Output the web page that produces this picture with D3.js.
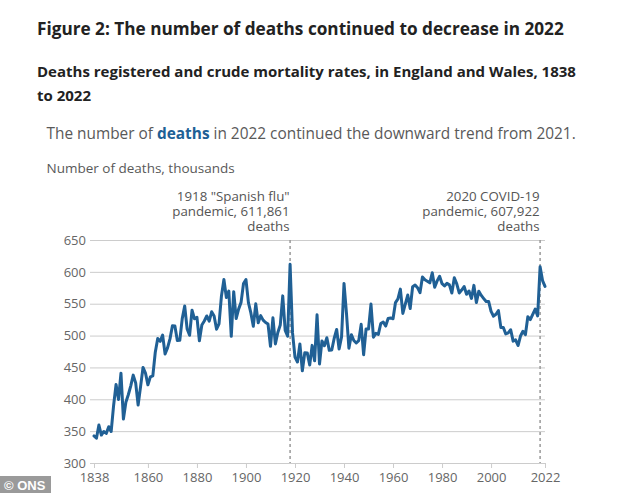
<!DOCTYPE html>
<html>
<head>
<meta charset="utf-8">
<script src="https://cdn.jsdelivr.net/npm/d3@7"></script>
<style>
  html, body { margin: 0; padding: 0; background: #ffffff; }
  svg { display: block; }
</style>
</head>
<body>
<svg id="chart" width="634" height="493"></svg>
<script>
// ---- Data (thousands of deaths registered, England and Wales) ----
const firstYear = 1838;
const deaths = [
  342.5, 338.9, 359.6, 343.8, 349.5, 346.4, 356.9, 349.4, 390.3, 423.3, // 1838-1847
  399.8, 441.0, 368.9, 395.4, 407.1, 421.1, 437.9, 425.7, 391.0, 419.8, // 1848-1857
  450.0, 441.2, 422.7, 435.1, 436.6, 473.8, 495.5, 490.9, 500.7, 471.1, // 1858-1867
  480.6, 494.8, 515.3, 514.9, 492.3, 492.5, 526.6, 546.5, 510.3, 500.5, // 1868-1877
  539.9, 526.3, 528.6, 491.9, 516.6, 522.9, 530.8, 522.7, 537.3, 530.8, // 1878-1887
  510.0, 518.4, 562.2, 587.9, 559.7, 569.9, 498.8, 568.9, 526.7, 541.5, // 1888-1897
  552.1, 581.8, 587.8, 551.6, 535.5, 514.6, 549.8, 520.0, 531.3, 524.2, // 1898-1907
  520.5, 518.0, 483.2, 527.8, 486.9, 504.9, 516.7, 562.3, 508.0, 498.9, // 1908-1917
  611.9, 504.2, 466.1, 458.6, 486.8, 444.8, 473.2, 472.8, 453.7, 484.6, // 1918-1927
  460.4, 532.5, 455.4, 491.6, 484.1, 496.5, 476.8, 477.4, 495.8, 509.6, // 1928-1937
  478.9, 498.0, 581.9, 535.2, 480.1, 501.4, 492.2, 488.4, 492.1, 517.6, // 1938-1947
  469.9, 510.3, 510.3, 549.4, 497.5, 503.5, 501.9, 518.9, 521.3, 514.9, // 1948-1957
  526.8, 527.7, 526.3, 551.8, 557.6, 572.9, 534.7, 549.4, 563.6, 542.5, // 1958-1967
  576.8, 579.4, 575.2, 567.3, 591.9, 587.5, 585.3, 582.8, 598.5, 575.9, // 1968-1977
  585.9, 593.0, 581.4, 577.9, 581.9, 579.6, 566.9, 590.7, 581.2, 566.9, // 1978-1987
  571.4, 576.9, 564.8, 570.0, 558.3, 578.8, 551.8, 569.7, 563.0, 558.1, // 1988-1997
  553.4, 553.5, 537.9, 530.4, 533.5, 539.2, 512.5, 512.7, 502.6, 504.1, // 1998-2007
  509.1, 491.3, 493.2, 484.4, 499.3, 506.8, 501.4, 529.7, 525.0, 533.3, // 2008-2017
  541.6, 530.8, 607.9, 586.3, 577.2                                      // 2018-2022
];
const years = d3.range(firstYear, firstYear + deaths.length);
const series = years.map((y, i) => ({ year: y, value: deaths[i] }));

const yTicks = [300, 350, 400, 450, 500, 550, 600, 650];
const xTicks = [1838, 1860, 1880, 1900, 1920, 1940, 1960, 1980, 2000, 2022];

const annotations = [
  { year: 1918, lines: ['1918 "Spanish flu"', 'pandemic, 611,861', 'deaths'] },
  { year: 2020, lines: ['2020 COVID-19', 'pandemic, 607,922', 'deaths'] }
];

const titleText = "Figure 2: The number of deaths continued to decrease in 2022";
const subtitleLines = ["Deaths registered and crude mortality rates, in England and Wales, 1838", "to 2022"];
const descParts = [["The number of ", false], ["deaths", true], [" in 2022 continued the downward trend from 2021.", false]];
const yAxisTitle = "Number of deaths, thousands";

// ---- Drawing ----
const svg = d3.select("#chart");
const FONT = "'Open Sans', 'Noto Sans', sans-serif";
const lineColor = "#206095";

const x = d3.scaleLinear().domain([1838, 2022]).range([94, 545]);
const y = d3.scaleLinear().domain([300, 650]).range([463, 240]);
const gridLeft = 90, gridRight = 545;

// Title
svg.append("text")
  .attr("x", 37).attr("y", 35)
  .attr("font-family", FONT).attr("font-weight", 700).attr("font-size", 17.2)
  .attr("fill", "#222222")
  .text(titleText);

// Subtitle
subtitleLines.forEach((t, i) => {
  svg.append("text")
    .attr("x", 37).attr("y", 77 + i * 23.5)
    .attr("font-family", FONT).attr("font-weight", 700).attr("font-size", 15)
    .attr("fill", "#222222")
    .text(t);
});

// Description
const desc = svg.append("text")
  .attr("x", 46.5).attr("y", 139)
  .attr("font-family", FONT).attr("font-size", 15.4)
  .attr("fill", "#595959");
descParts.forEach(([t, bold]) => {
  desc.append("tspan")
    .attr("font-weight", bold ? 700 : 400)
    .attr("fill", bold ? lineColor : "#595959")
    .text(t);
});

// Y axis title
svg.append("text")
  .attr("x", 46.5).attr("y", 173)
  .attr("font-family", FONT).attr("font-size", 13.5)
  .attr("fill", "#595959")
  .text(yAxisTitle);

// Y axis with gridlines
const yAxis = d3.axisLeft(y)
  .tickValues(yTicks)
  .tickSize(-(gridRight - gridLeft))
  .tickPadding(4)
  .tickFormat(d3.format("d"));
const gy = svg.append("g")
  .attr("transform", `translate(${gridLeft},0)`)
  .call(yAxis);
gy.select(".domain").remove();
gy.selectAll(".tick line").attr("stroke", "#cccccc").attr("stroke-width", 1);
gy.selectAll(".tick text")
  .attr("font-family", FONT).attr("font-size", 13).attr("fill", "#666666");

// X axis
const xAxis = d3.axisBottom(x)
  .tickValues(xTicks)
  .tickSize(5)
  .tickPadding(5)
  .tickFormat(d3.format("d"));
const gx = svg.append("g")
  .attr("transform", `translate(0,${y(300)})`)
  .call(xAxis);
gx.select(".domain").remove();
gx.selectAll(".tick line").attr("stroke", "#cccccc").attr("stroke-width", 1);
gx.selectAll(".tick text")
  .attr("font-family", FONT).attr("font-size", 13).attr("fill", "#666666");

// Annotation dashed lines and labels
annotations.forEach(a => {
  svg.append("line")
    .attr("x1", x(a.year)).attr("x2", x(a.year))
    .attr("y1", y(650)).attr("y2", y(300))
    .attr("stroke", "#999999").attr("stroke-width", 1.5)
    .attr("stroke-dasharray", "3,3");
  const t = svg.append("text")
    .attr("text-anchor", "end")
    .attr("font-family", FONT).attr("font-size", 13.3)
    .attr("fill", "#555555");
  a.lines.forEach((s, i) => {
    t.append("tspan")
      .attr("x", x(a.year) - 0.5).attr("y", 201 + i * 15)
      .text(s);
  });
});

// Line
const line = d3.line()
  .x(d => x(d.year))
  .y(d => y(d.value));
svg.append("path")
  .datum(series)
  .attr("d", line)
  .attr("fill", "none")
  .attr("stroke", lineColor)
  .attr("stroke-width", 3)
  .attr("stroke-linejoin", "round")
  .attr("stroke-linecap", "round");

// © ONS badge
svg.append("rect")
  .attr("x", 0).attr("y", 476).attr("width", 51).attr("height", 17)
  .attr("fill", "#9a9a9a");
svg.append("text")
  .attr("x", 4).attr("y", 489.5)
  .attr("font-family", "'Liberation Sans', Arial, sans-serif")
  .attr("font-weight", 700).attr("font-size", 13)
  .attr("fill", "#ffffff")
  .text("© ONS");
</script>
</body>
</html>
